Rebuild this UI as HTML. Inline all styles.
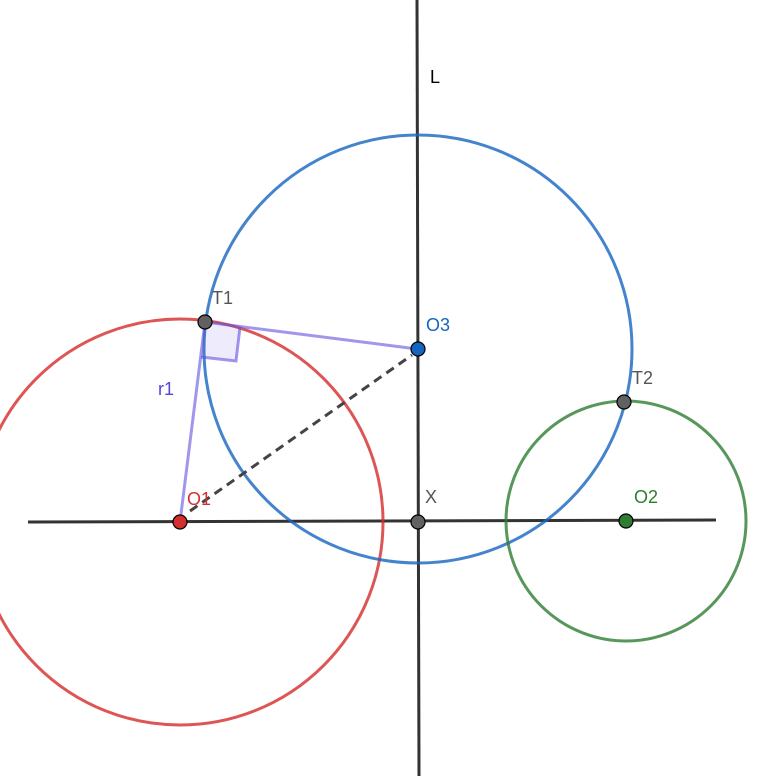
<!DOCTYPE html>
<html><head><style>body{margin:0;background:#fff}svg{display:block}text{font-family:"Liberation Sans",sans-serif;font-size:18px}</style></head>
<body><svg width="768" height="776" viewBox="0 0 768 776">
<line x1="417" y1="0" x2="419" y2="776" stroke="#333" stroke-width="3"/>
<line x1="28" y1="522" x2="716" y2="520" stroke="#333" stroke-width="3"/>
<circle cx="180" cy="522" r="203" fill="none" stroke="#d62a2a" stroke-width="3" stroke-opacity="0.8"/>
<circle cx="418" cy="349" r="214" fill="none" stroke="#1565c0" stroke-width="3" stroke-opacity="0.8"/>
<circle cx="626" cy="521" r="120" fill="none" stroke="#2e7d32" stroke-width="3" stroke-opacity="0.8"/>
<polygon points="205,322 240,327 236,361 201,357" fill="#5544dd" fill-opacity="0.1"/>
<polyline points="240,327 236,361 201,357" fill="none" stroke="#6050e0" stroke-opacity="0.6" stroke-width="3"/>
<line x1="180" y1="522" x2="205" y2="322" stroke="#6050e0" stroke-opacity="0.6" stroke-width="3"/>
<line x1="205" y1="322" x2="417" y2="349" stroke="#6050e0" stroke-opacity="0.6" stroke-width="3"/>
<line x1="190" y1="511" x2="412" y2="355" stroke="#444" stroke-width="3" stroke-dasharray="9,6"/>
<g stroke="#000" stroke-width="1.2">
<circle cx="205" cy="322" r="7" fill="#616161"/>
<circle cx="418" cy="349" r="7" fill="#1565c0"/>
<circle cx="624" cy="402" r="7" fill="#616161"/>
<circle cx="418" cy="522" r="7" fill="#616161"/>
<circle cx="180" cy="522" r="7" fill="#d32f2f"/>
<circle cx="626" cy="521" r="7" fill="#2e7d32"/>
</g>
<text x="430" y="83" fill="#000">L</text>
<text x="212" y="304" fill="#555">T1</text>
<text x="426" y="331" fill="#1565c0">O3</text>
<text x="632" y="384" fill="#555">T2</text>
<text x="158" y="395" fill="#5544dd">r1</text>
<text x="187" y="505" fill="#d32f2f">O1</text>
<text x="425" y="503" fill="#555">X</text>
<text x="634" y="503" fill="#2e7d32">O2</text>
</svg></body></html>
